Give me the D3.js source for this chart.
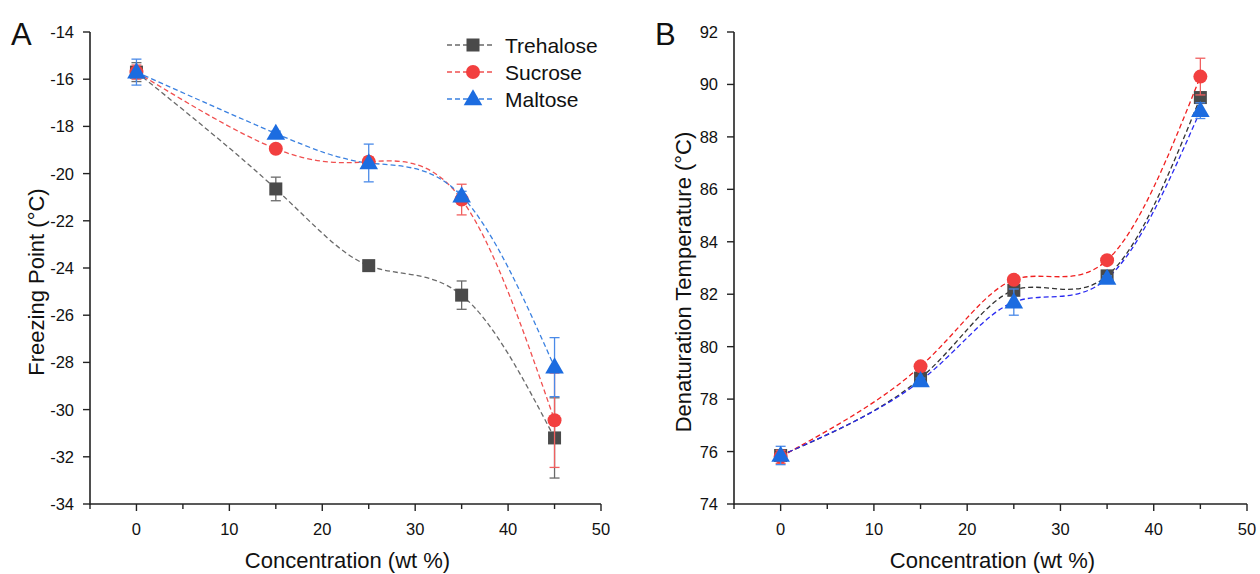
<!DOCTYPE html>
<html>
<head>
<meta charset="utf-8">
<script src="https://cdn.jsdelivr.net/npm/d3@7"></script>
<style>
  body { margin: 0; background: #fff; }
  svg { font-family: 'Liberation Sans', Arial, sans-serif; }
</style>
</head>
<body>
<svg width="1260" height="574"></svg>
<script>
'use strict'

const conc = [0, 15, 25, 35, 45]
const xTicks = [0, 10, 20, 30, 40, 50]

// panel A: freezing point
const freezeTreh = [-15.7, -20.65, -23.9, -25.15, -31.2]
const freezeTrehErr = [0.4, 0.5, 0.1, 0.6, 1.7]
const freezeSucr = [-15.7, -18.95, -19.5, -21.1, -30.45]
const freezeSucrErr = [0.3, 0.15, 0.2, 0.65, 2.0]
const freezeMalt = [-15.7, -18.3, -19.55, -20.95, -28.2]
const freezeMaltErr = [0.55, 0.1, 0.8, 0.2, 1.25]
const freezeTicks = [-34, -32, -30, -28, -26, -24, -22, -20, -18, -16, -14]

// panel B: denaturation temperature
const denatTreh = [75.85, 78.8, 82.15, 82.7, 89.5]
const denatTrehErr = [0.2, 0.15, 0.2, 0.2, 0.2]
const denatSucr = [75.8, 79.25, 82.55, 83.3, 90.3]
const denatSucrErr = [0.25, 0.1, 0.1, 0.1, 0.7]
const denatMalt = [75.85, 78.7, 81.7, 82.6, 89.0]
const denatMaltErr = [0.35, 0.1, 0.5, 0.1, 0.3]
const denatTicks = [74, 76, 78, 80, 82, 84, 86, 88, 90, 92]

const seriesNames = ['Trehalose', 'Sucrose', 'Maltose']

const styleA = [
  { fill: '#4a4a4a', line: '#6a6a6a', err: '#6a6a6a', shape: 'square' },
  { fill: '#f23f3f', line: '#f05050', err: '#f06060', shape: 'circle' },
  { fill: '#1c6ce0', line: '#3a80e0', err: '#4a8ae8', shape: 'triangle' }
]
const styleB = [
  { fill: '#4a4a4a', line: '#333333', err: '#555555', shape: 'square' },
  { fill: '#f23f3f', line: '#f02020', err: '#f06060', shape: 'circle' },
  { fill: '#1c6ce0', line: '#2a2af0', err: '#4a8ae8', shape: 'triangle' }
]

const svg = d3.select('svg')

function drawPanel(opt) {
  const g = svg.append('g')
  const x = d3.scaleLinear().domain([-5, 50]).range([opt.left, opt.right])
  const y = d3.scaleLinear().domain(opt.yDomain).range([504, 32])

  // x axis
  const xAxis = g.append('g').attr('transform', 'translate(0,504)')
  xAxis.append('line')
    .attr('x1', x(-5)).attr('x2', x(50))
    .attr('stroke', '#222').attr('stroke-width', 1.6)
  xAxis.selectAll('.minor').data(d3.range(-5, 50, 10)).join('line')
    .attr('x1', d => x(d)).attr('x2', d => x(d))
    .attr('y1', 0).attr('y2', 5)
    .attr('stroke', '#222').attr('stroke-width', 1.4)
  xAxis.selectAll('.major').data(xTicks).join('line')
    .attr('x1', d => x(d)).attr('x2', d => x(d))
    .attr('y1', 0).attr('y2', 7)
    .attr('stroke', '#222').attr('stroke-width', 1.4)
  xAxis.selectAll('text').data(xTicks).join('text')
    .attr('x', d => x(d)).attr('y', 31)
    .attr('text-anchor', 'middle')
    .attr('font-size', 16.5).attr('fill', '#111')
    .text(d => d)

  // y axis
  const yAxis = g.append('g')
  yAxis.append('line')
    .attr('x1', x(-5)).attr('x2', x(-5))
    .attr('y1', y(opt.yDomain[0]) + 0.8).attr('y2', y(opt.yDomain[1]))
    .attr('stroke', '#222').attr('stroke-width', 1.6)
  yAxis.selectAll('.tk').data(opt.yTicks).join('line')
    .attr('x1', x(-5) - 7).attr('x2', x(-5))
    .attr('y1', d => y(d)).attr('y2', d => y(d))
    .attr('stroke', '#222').attr('stroke-width', 1.4)
  yAxis.selectAll('text').data(opt.yTicks).join('text')
    .attr('x', x(-5) - 16).attr('y', d => y(d) + 6)
    .attr('text-anchor', 'end')
    .attr('font-size', 16.5).attr('fill', '#111')
    .text(d => d)

  // titles
  g.append('text')
    .attr('x', (x(-5) + x(50)) / 2 + 2).attr('y', 568)
    .attr('text-anchor', 'middle').attr('font-size', 22).attr('fill', '#111')
    .text('Concentration (wt %)')
  g.append('text')
    .attr('transform', 'translate(' + opt.yTitleX + ',' + 282 + ') rotate(-90)')
    .attr('text-anchor', 'middle').attr('font-size', 22).attr('fill', '#111')
    .text(opt.yTitle)
  g.append('text')
    .attr('x', opt.labelX).attr('y', 45)
    .attr('font-size', 31).attr('fill', '#111')
    .text(opt.label)

  const line = d3.line()
    .x((d, i) => x(conc[i]))
    .y(d => y(d))
    .curve(d3.curveNatural)

  opt.series.forEach((vals, s) => {
    const st = opt.style[s]
    g.append('path')
      .attr('d', line(vals))
      .attr('fill', 'none')
      .attr('stroke', st.line)
      .attr('stroke-width', 1.3)
      .attr('stroke-dasharray', '5,3')
  })

  opt.series.forEach((vals, s) => {
    const st = opt.style[s]
    const errs = opt.errors[s]
    const eb = g.append('g').attr('stroke', st.err).attr('stroke-width', 1.3)
    vals.forEach((v, i) => {
      const cx = x(conc[i])
      eb.append('line').attr('x1', cx).attr('x2', cx)
        .attr('y1', y(v - errs[i])).attr('y2', y(v + errs[i]))
      ;[v - errs[i], v + errs[i]].forEach(e => {
        eb.append('line').attr('x1', cx - 5).attr('x2', cx + 5)
          .attr('y1', y(e)).attr('y2', y(e))
      })
    })
    vals.forEach((v, i) => {
      drawMarker(g, st, x(conc[i]), y(v))
    })
  })

  if (opt.legend) {
    seriesNames.forEach((name, s) => {
      const st = opt.style[s]
      const ly = 45 + s * 27
      g.append('line')
        .attr('x1', 447).attr('x2', 495)
        .attr('y1', ly).attr('y2', ly)
        .attr('stroke', st.line).attr('stroke-width', 1.3)
        .attr('stroke-dasharray', '5,3')
      drawMarker(g, st, 473, ly)
      g.append('text')
        .attr('x', 505).attr('y', ly + 7.5)
        .attr('font-size', 21).attr('fill', '#111')
        .text(name)
    })
  }
}

function drawMarker(g, st, cx, cy) {
  if (st.shape === 'square') {
    g.append('rect')
      .attr('x', cx - 6.5).attr('y', cy - 6.5)
      .attr('width', 13).attr('height', 13)
      .attr('fill', st.fill)
  } else if (st.shape === 'circle') {
    g.append('circle')
      .attr('cx', cx).attr('cy', cy).attr('r', 7)
      .attr('fill', st.fill)
  } else {
    g.append('path')
      .attr('d', d3.symbol(d3.symbolTriangle, 150)())
      .attr('transform', 'translate(' + cx + ',' + (cy + 1) + ')')
      .attr('fill', st.fill)
  }
}

drawPanel({
  left: 90, right: 601,
  yDomain: [-34, -14], yTicks: freezeTicks,
  series: [freezeTreh, freezeSucr, freezeMalt],
  errors: [freezeTrehErr, freezeSucrErr, freezeMaltErr],
  style: styleA,
  yTitle: 'Freezing Point (\u00B0C)', yTitleX: 44,
  label: 'A', labelX: 11,
  legend: true
})

drawPanel({
  left: 734, right: 1247,
  yDomain: [74, 92], yTicks: denatTicks,
  series: [denatTreh, denatSucr, denatMalt],
  errors: [denatTrehErr, denatSucrErr, denatMaltErr],
  style: styleB,
  yTitle: 'Denaturation Temperature (\u00B0C)', yTitleX: 691,
  label: 'B', labelX: 655,
  legend: false
})
</script>
</body>
</html>
